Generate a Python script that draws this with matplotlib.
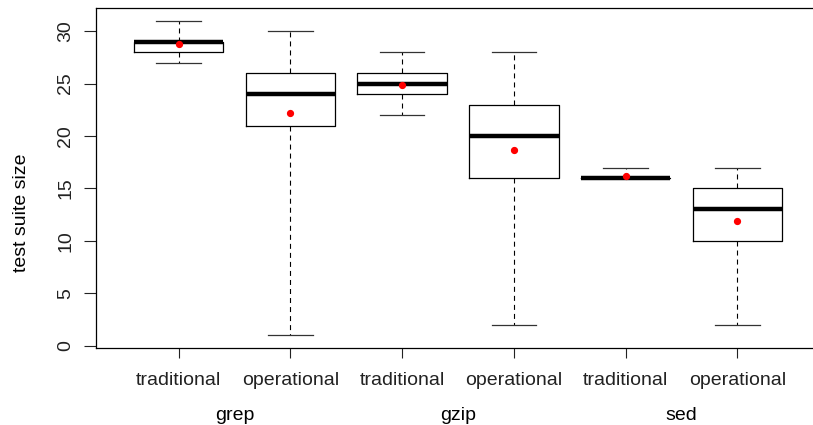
import matplotlib
matplotlib.use('Agg')
import matplotlib.pyplot as plt

plt.rcParams['font.family'] = ['Liberation Sans', 'DejaVu Sans']
plt.rcParams['lines.scale_dashes'] = False

# data
groups = ['grep', 'gzip', 'sed']
methods = ['traditional', 'operational']
whislo = [27, 1, 22, 2, 16, 2]
q1 = [28, 21, 24, 16, 16, 10]
med = [29, 24, 25, 20, 16, 13]
q3 = [29, 26, 26, 23, 16, 15]
whishi = [31, 30, 28, 28, 17, 17]
means = [28.8, 22.2, 24.9, 18.65, 16.15, 11.95]

stats = []
for i in range(len(med)):
    stats.append(dict(whislo=whislo[i], q1=q1[i], med=med[i], q3=q3[i],
                      whishi=whishi[i], mean=means[i], fliers=[]))

positions = list(range(1, len(stats) + 1))
labels = [m for g in groups for m in methods]

fig = plt.figure(figsize=(8.13, 4.25), dpi=100)
ax = fig.add_axes([96 / 813, 77 / 425, 724 / 813, 340 / 425])

ax.bxp(stats, positions=positions, widths=0.8, showmeans=True,
       boxprops=dict(color='black', linewidth=0.9),
       whiskerprops=dict(color='black', linewidth=0.8, linestyle=(0, (3.6, 2.9))),
       capprops=dict(color='#333333', linewidth=0.9),
       medianprops=dict(color='black', linewidth=3.2, solid_capstyle='butt'),
       meanprops=dict(marker='o', markerfacecolor='red', markeredgecolor='red',
                      markersize=4.2))

ax.set_xlim(0.26, 6.74)
ax.set_ylim(-0.2, 32.2)
ax.set_xticks(positions)
ax.set_xticklabels(labels, fontsize=14)
ax.set_yticks([0, 5, 10, 15, 20, 25, 30])
ax.set_yticklabels(['0', '5', '10', '15', '20', '25', '30'], fontsize=14,
                   rotation=90, va='center')
ax.tick_params(axis='x', length=7.5, width=0.8, pad=10, colors='#222222')
ax.tick_params(axis='y', length=8.5, width=0.8, pad=7, colors='#222222')
for s in ax.spines.values():
    s.set_linewidth(0.9)
    s.set_color('black')

# group names under each pair of boxes
for j, g in enumerate(groups):
    x = (positions[2 * j] + positions[2 * j + 1]) / 2
    ax.text(x, -0.198, g, transform=ax.get_xaxis_transform(),
            ha='center', va='center', fontsize=14)

fig.text(22 / 813, 0.5, 'test suite size',
         rotation=90, ha='center', va='center', fontsize=14)

fig.savefig('out.png', dpi=100)
